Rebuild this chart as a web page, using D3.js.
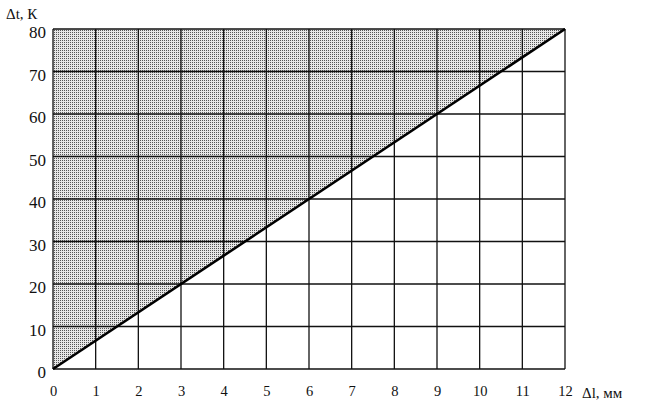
<!DOCTYPE html>
<html><head><meta charset="utf-8">
<script src="https://cdn.jsdelivr.net/npm/d3@7"></script>
<style>body{margin:0;background:#fff}svg{display:block}text{font-family:"Liberation Serif","DejaVu Serif",serif;fill:#111}</style>
</head><body>
<svg id="c" width="647" height="404"></svg>
<script>
const xTicks = [0,1,2,3,4,5,6,7,8,9,10,11,12];
const yTicks = [0,10,20,30,40,50,60,70,80];
const lineX = [0, 12];
const lineY = [0, 80];
const xTitle = "Δl, мм";
const yTitle = "Δt, К";

const svg = d3.select("#c");
const x = d3.scaleLinear().domain([0,12]).range([53,565]);
const y = d3.scaleLinear().domain([0,80]).range([369,29]);

const defs = svg.append("defs");
const pat = defs.append("pattern").attr("id","dots").attr("patternUnits","userSpaceOnUse")
  .attr("width",2).attr("height",2);
pat.append("rect").attr("width",2).attr("height",2).attr("fill","#e6e6e6");
pat.append("rect").attr("width",1).attr("height",1).attr("fill","#555");

const pts = lineX.map((d,i)=>[x(d), y(lineY[i])]);
// shaded region above the line
const poly = [pts[0], pts[1], [x(0), y(80)]];
svg.append("path").attr("d", d3.line()(poly)+"Z").attr("fill","url(#dots)");

// grid
const g = svg.append("g").attr("stroke","#111").attr("stroke-width",1.3);
g.selectAll(".vx").data(xTicks).join("line")
  .attr("x1",d=>x(d)).attr("x2",d=>x(d)).attr("y1",y(0)).attr("y2",y(80));
g.selectAll(".hy").data(yTicks).join("line")
  .attr("y1",d=>y(d)).attr("y2",d=>y(d)).attr("x1",x(0)).attr("x2",x(12));

// main line
svg.append("path").attr("d", d3.line()(pts)).attr("stroke","#000").attr("stroke-width",2.6).attr("fill","none");

// axes labels
const xa = d3.axisBottom(x).tickValues(xTicks).tickSize(0).tickPadding(17);
const xg = svg.append("g").attr("transform",`translate(0,${y(0)})`).call(xa);
const ya = d3.axisLeft(y).tickValues(yTicks).tickSize(0).tickPadding(7);
const yg = svg.append("g").attr("transform",`translate(${x(0)},0)`).call(ya);
[xg,yg].forEach(s=>{s.select(".domain").remove();
  s.selectAll("text").attr("font-family","Liberation Serif, serif").attr("fill","#111");});
xg.selectAll("text").attr("font-size",14.5);
yg.selectAll("text").attr("font-size",17).attr("dy","0.5em");

svg.append("text").attr("x",582).attr("y",398).attr("font-size",15).text(xTitle);
svg.append("text").attr("x",6).attr("y",19).attr("font-size",15).text(yTitle);
</script>
</body></html>
